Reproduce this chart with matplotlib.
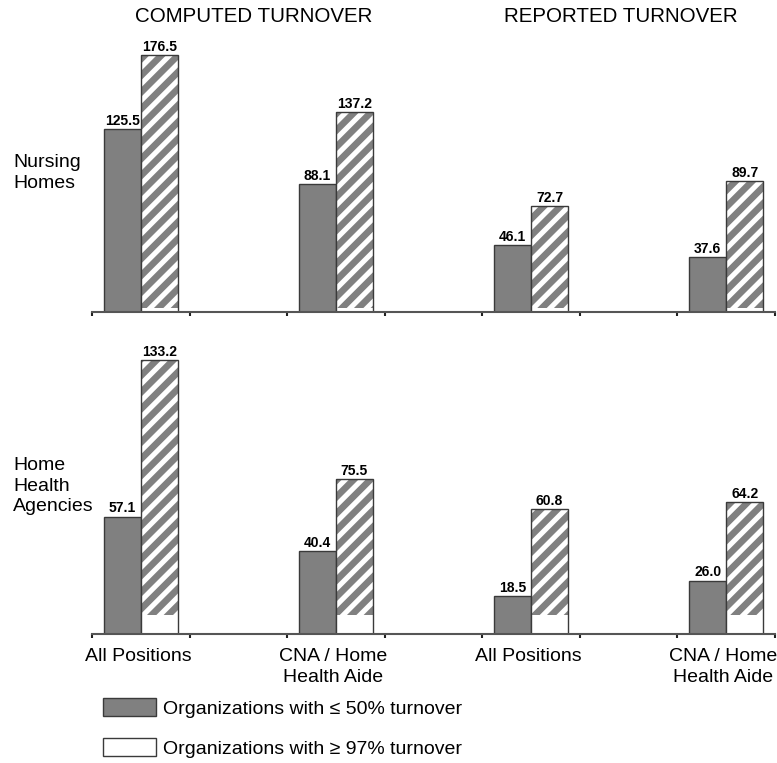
import matplotlib
matplotlib.use("Agg")
import matplotlib.pyplot as plt
from matplotlib.patches import Patch

plt.rcParams['font.family'] = ['Liberation Sans', 'DejaVu Sans']
plt.rcParams['hatch.linewidth'] = 4.8

## data
columns = ["COMPUTED TURNOVER", "REPORTED TURNOVER"]
groups = ["All Positions", "CNA / Home\nHealth Aide", "All Positions", "CNA / Home\nHealth Aide"]
panels = ["Nursing\nHomes", "Home\nHealth\nAgencies"]
low_turnover = [[125.5, 88.1, 46.1, 37.6],
                [57.1, 40.4, 18.5, 26.0]]
high_turnover = [[176.5, 137.2, 72.7, 89.7],
                 [133.2, 75.5, 60.8, 64.2]]
legend_labels = ["Organizations with \u2264 50% turnover",
                 "Organizations with \u2265 97% turnover"]

DARK = "#808080"
EDGE = "#3a3a3a"
W, H = 777, 763

fig = plt.figure(figsize=(W / 100, H / 100), dpi=100)

# axes boxes in pixels: (left, top, right, baseline), ylim top, hatch gap in px
boxes = [(92, 40, 775, 312, 186.9, 4),
         (92, 345, 775, 634, 140.5, 19)]
bw = 0.38
centers = [2 * g + 0.5 for g in range(len(groups))]

for p, (l, t, r, b, ytop, gap_px) in enumerate(boxes):
    ax = fig.add_axes([l / W, 1 - b / H, (r - l) / W, (b - t) / H])
    ax.set_xlim(0, 7)
    ax.set_ylim(0, ytop)
    gap = gap_px * ytop / (b - t)

    xs_low = [c - bw for c in centers]
    ax.bar(xs_low, low_turnover[p], width=bw, align='edge',
           facecolor=DARK, edgecolor=EDGE, linewidth=1, zorder=2)
    # hatched bars: white base, hatch overlay, dark outline
    ax.bar(centers, high_turnover[p], width=bw, align='edge',
           facecolor='white', edgecolor='none', linewidth=0, zorder=2)
    ax.bar(centers, [v - gap for v in high_turnover[p]], bottom=gap, width=bw,
           align='edge', facecolor='none', edgecolor=DARK, hatch='//',
           linewidth=0, zorder=3)
    ax.bar(centers, high_turnover[p], width=bw, align='edge',
           facecolor='none', edgecolor=EDGE, linewidth=1, zorder=4)

    for x, v in zip(xs_low, low_turnover[p]):
        ax.text(x + bw / 2, v + ytop * 0.004, f"{v:.1f}", ha='center', va='bottom',
                fontsize=10, fontweight='bold')
    for x, v in zip(centers, high_turnover[p]):
        ax.text(x + bw / 2, v + ytop * 0.004, f"{v:.1f}", ha='center', va='bottom',
                fontsize=10, fontweight='bold')

    for s in ['top', 'right', 'left']:
        ax.spines[s].set_visible(False)
    ax.spines['bottom'].set_color("#555555")
    ax.spines['bottom'].set_linewidth(1.5)
    ax.spines['bottom'].set_zorder(5)
    ax.set_yticks([])
    ax.set_xticks(range(8))
    ax.set_xticklabels([])
    ax.tick_params(axis='x', which='major', length=3, width=1.5, color="#222222", direction='out')
    if p == 1:
        ax.set_xticks([c - 0.03 for c in centers], minor=True)
        ax.set_xticklabels(groups, minor=True, fontsize=14, linespacing=1.3)
        ax.tick_params(axis='x', which='minor', length=0, pad=10)

    # row label on the left
    fig.text(13 / W, 1 - [173, 486][p] / H, panels[p], ha='left', va='center',
             fontsize=14, linespacing=1.3)

# column titles
fig.text(254 / W, 1 - 17 / H, columns[0], ha='center', va='center', fontsize=14.8)
fig.text(621 / W, 1 - 17 / H, columns[1], ha='center', va='center', fontsize=14.8)

handles = [Patch(facecolor=DARK, edgecolor=EDGE, linewidth=1),
           Patch(facecolor='white', edgecolor=EDGE, linewidth=1)]
fig.legend(handles, legend_labels, loc='upper left',
           bbox_to_anchor=(103 / W, 1 - 698 / H), frameon=False, fontsize=14,
           handlelength=2.7, handleheight=1.05, handletextpad=0.4,
           labelspacing=1.05, borderpad=0, borderaxespad=0)

fig.savefig("out.png", dpi=100)
